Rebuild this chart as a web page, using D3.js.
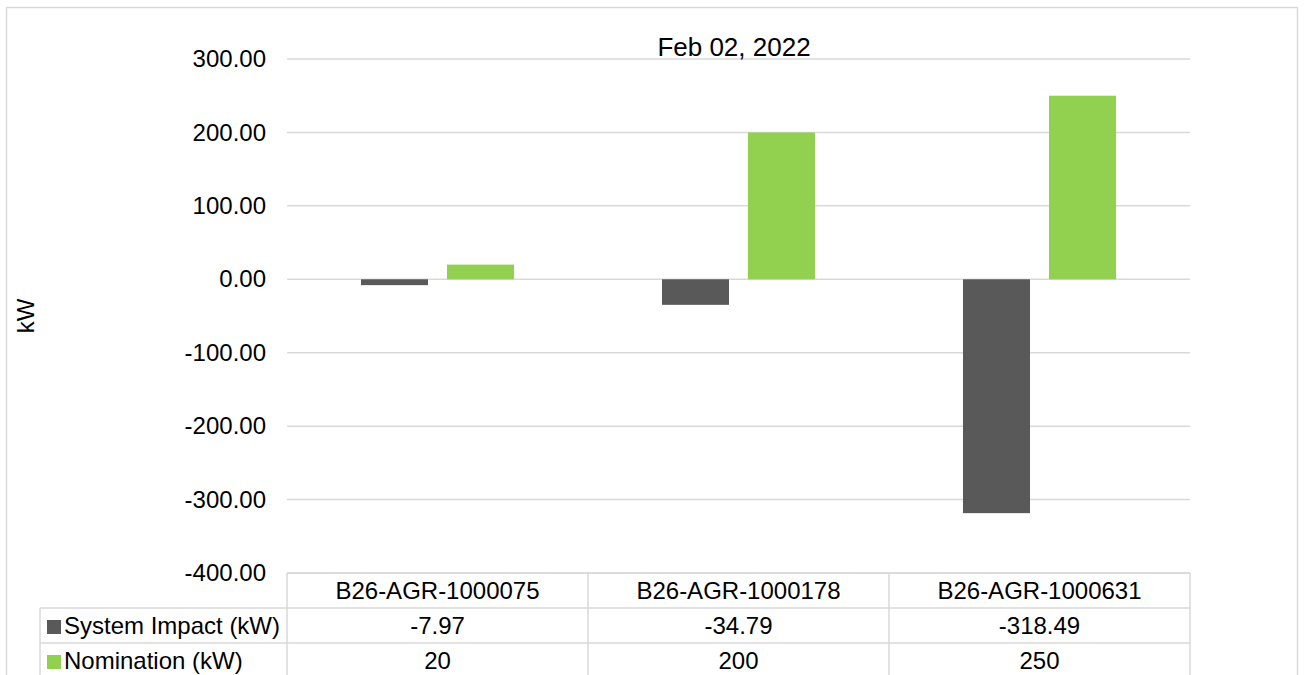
<!DOCTYPE html>
<html>
<head>
<meta charset="utf-8">
<script src="https://cdn.jsdelivr.net/npm/d3@7"></script>
<style>
html,body{margin:0;padding:0;background:#fff;}
svg{display:block;font-family:"Liberation Sans",Arial,sans-serif;}
</style>
</head>
<body>
<svg id="chart" width="1304" height="675"></svg>
<script>
const title = "Feb 02, 2022";
const yLabel = "kW";
const categories = ["B26-AGR-1000075", "B26-AGR-1000178", "B26-AGR-1000631"];
const seriesNames = ["System Impact (kW)", "Nomination (kW)"];
const systemImpact = [-7.97, -34.79, -318.49];
const nomination = [20, 200, 250];
const systemImpactLabels = ["-7.97", "-34.79", "-318.49"];
const nominationLabels = ["20", "200", "250"];
const yTicks = [300, 200, 100, 0, -100, -200, -300, -400];
const colors = ["#595959", "#92D050"];

const seriesValues = [systemImpact, nomination];
const seriesLabels = [systemImpactLabels, nominationLabels];

const svg = d3.select("#chart");
const left = 287, right = 1190;

// outer frame
svg.append("rect").attr("x", 6.5).attr("y", 7.5).attr("width", 1291).attr("height", 700)
  .attr("fill", "none").attr("stroke", "#d9d9d9").attr("stroke-width", 1.5);

const y = d3.scaleLinear().domain([-400, 300]).range([573, 59]);
const x0 = d3.scaleBand().domain(categories).range([left, right]).paddingInner(0).paddingOuter(0);
const x1 = d3.scaleBand().domain(seriesNames).range([0, x0.bandwidth()]).paddingInner(0.221).paddingOuter(0.86);

// gridlines
svg.append("g").selectAll("line").data(yTicks).join("line")
  .attr("x1", left).attr("x2", right)
  .attr("y1", d => y(d)).attr("y2", d => y(d))
  .attr("stroke", "#d9d9d9").attr("stroke-width", 1.5);

// y axis labels
const yAxis = d3.axisLeft(y).tickValues(yTicks).tickFormat(d3.format(".2f")).tickSize(0).tickPadding(21);
const gy = svg.append("g").attr("transform", `translate(${left},0)`).call(yAxis);
gy.select(".domain").remove();
gy.selectAll("text").attr("font-size", 24).attr("fill", "#000")
  .attr("font-family", "'Liberation Sans', Arial, sans-serif")
  .text(d => d3.format(".2f")(d).replace("−", "-"));

// bars
const groups = svg.append("g").selectAll("g").data(categories).join("g")
  .attr("transform", d => `translate(${x0(d)},0)`);
groups.selectAll("rect").data((c, i) => seriesNames.map((s, j) => ({s, v: seriesValues[j][i], j})))
  .join("rect")
  .attr("x", d => x1(d.s))
  .attr("width", x1.bandwidth())
  .attr("y", d => Math.min(y(d.v), y(0)))
  .attr("height", d => Math.abs(y(d.v) - y(0)))
  .attr("fill", d => colors[d.j]);

// title
svg.append("text").attr("x", 734).attr("y", 56).attr("text-anchor", "middle")
  .attr("font-size", 26).attr("fill", "#000").text(title);

// y label
svg.append("text").attr("transform", "translate(34,316) rotate(-90)")
  .attr("text-anchor", "middle").attr("font-size", 24).attr("fill", "#000").text(yLabel);

// data table
const rowTops = [573, 608, 643, 678];
const tableLeft = 40;
const tg = svg.append("g");
const stroke = "#d9d9d9";
tg.append("line").attr("x1", left).attr("x2", right).attr("y1", rowTops[0]).attr("y2", rowTops[0]).attr("stroke", stroke).attr("stroke-width", 1.5);
[1, 2, 3].forEach(k => {
  tg.append("line").attr("x1", tableLeft).attr("x2", right).attr("y1", rowTops[k]).attr("y2", rowTops[k]).attr("stroke", stroke).attr("stroke-width", 1.5);
});
const colEdges = categories.map(c => x0(c)).concat([right]);
colEdges.forEach(xe => {
  tg.append("line").attr("x1", xe).attr("x2", xe).attr("y1", rowTops[0]).attr("y2", rowTops[3]).attr("stroke", stroke).attr("stroke-width", 1.5);
});
tg.append("line").attr("x1", tableLeft).attr("x2", tableLeft).attr("y1", rowTops[1]).attr("y2", rowTops[3]).attr("stroke", stroke).attr("stroke-width", 1.5);

tg.selectAll("text.hdr").data(categories).join("text").attr("class", "hdr")
  .attr("x", d => x0(d) + x0.bandwidth() / 2).attr("y", rowTops[0] + 26)
  .attr("text-anchor", "middle").attr("font-size", 24).attr("fill", "#000").text(d => d);

seriesNames.forEach((s, j) => {
  const top = rowTops[j + 1];
  tg.append("rect").attr("x", 47).attr("y", top + 12).attr("width", 14).attr("height", 14).attr("fill", colors[j]);
  tg.append("text").attr("x", 64).attr("y", top + 26).attr("font-size", 24).attr("fill", "#000").text(s);
  tg.selectAll("text.v" + j).data(categories).join("text").attr("class", "v" + j)
    .attr("x", d => x0(d) + x0.bandwidth() / 2).attr("y", top + 26)
    .attr("text-anchor", "middle").attr("font-size", 24).attr("fill", "#000")
    .text((d, i) => seriesLabels[j][i]);
});
</script>
</body>
</html>
